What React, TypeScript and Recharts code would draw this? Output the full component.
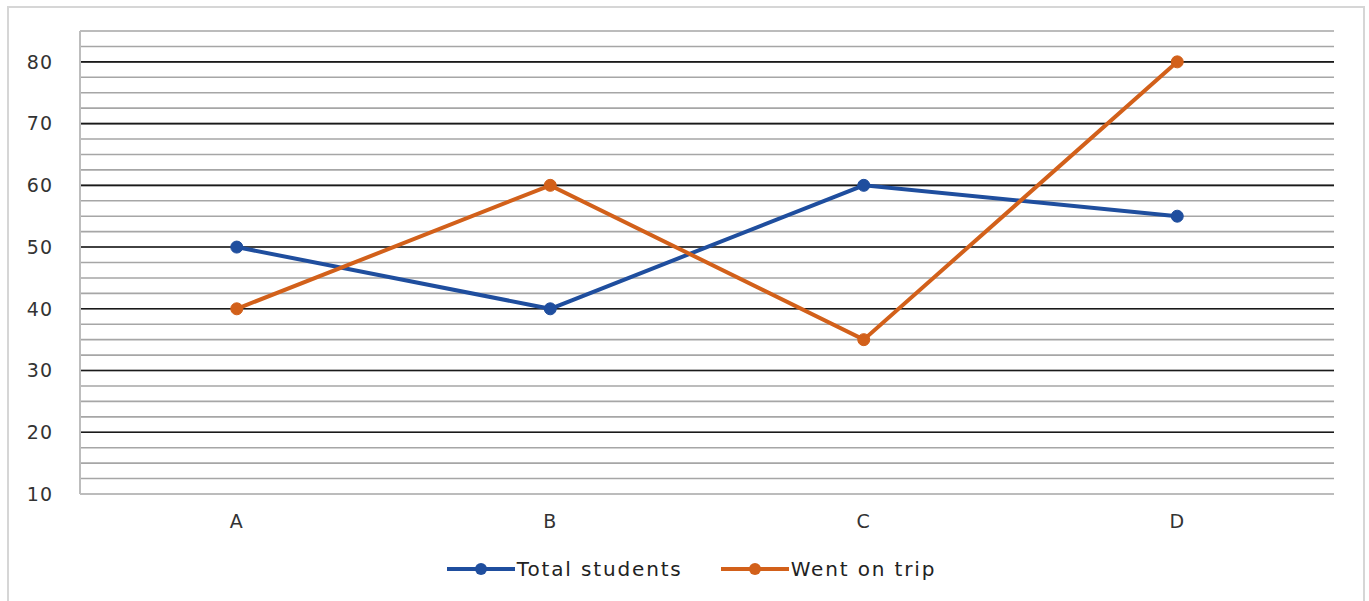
import React from 'react';
import { LineChart, Line, XAxis, YAxis, CartesianGrid, Legend } from 'recharts';

const categories = ['A', 'B', 'C', 'D'];
const totalStudents = [50, 40, 60, 55];
const wentOnTrip = [40, 60, 35, 80];
const majorTicks = [20, 30, 40, 50, 60, 70, 80];
const minorTicks = [10, 12.5, 15, 17.5, 20, 22.5, 25, 27.5, 30, 32.5, 35, 37.5, 40, 42.5, 45, 47.5, 50, 52.5, 55, 57.5, 60, 62.5, 65, 67.5, 70, 72.5, 75, 77.5, 80, 82.5, 85];
const labelTicks = [10, 20, 30, 40, 50, 60, 70, 80];

const data = categories.map((c, i) => ({ name: c, total: totalStudents[i], trip: wentOnTrip[i] }));

const BLUE = '#1F4E9E';
const ORANGE = '#D2601A';
const FONT = '"DejaVu Sans", sans-serif';

const renderLegend = (props: any) => {
  const { payload } = props;
  return (
    <div style={{ display: 'flex', justifyContent: 'center', alignItems: 'center', height: 30, paddingLeft: 49, fontFamily: FONT, fontSize: 20, letterSpacing: 1.85, color: '#222' }}>
      {(payload || []).map((entry: any, i: number) => (
        <div key={i} style={{ display: 'flex', alignItems: 'center', marginRight: i === 0 ? 38 : 0 }}>
          <svg width={68} height={14} style={{ display: 'block' }}>
            <line x1={0} y1={7} x2={68} y2={7} stroke={entry.color} strokeWidth={4} />
            <circle cx={34} cy={7} r={6} fill={entry.color} />
          </svg>
          <span style={{ marginLeft: 2, whiteSpace: 'nowrap' }}>{entry.value}</span>
        </div>
      ))}
    </div>
  );
};

export default function App() {
  return (
    <div style={{ position: 'absolute', left: 0, top: 0, width: 1369, height: 601, background: '#fff', overflow: 'hidden' }}>
      <div style={{ position: 'absolute', left: 7, top: 6, width: 1358, height: 610, border: '2px solid #D6D6D6', boxSizing: 'border-box' }} />
      <div style={{ position: 'absolute', left: 0, top: 0 }}>
        <LineChart width={1369} height={601} data={data} margin={{ top: 31, right: 35, bottom: 17, left: 0 }}>
          <XAxis dataKey="name" scale="band" tickLine={false} axisLine={false} tickSize={0} tickMargin={21} height={60}
            tick={{ fill: '#333', fontSize: 19, fontFamily: FONT, letterSpacing: 1 }} />
          <YAxis yAxisId="left" domain={[10, 85]} ticks={labelTicks} interval={0} width={80} tickLine={false} tickSize={0} tickMargin={27}
            axisLine={{ stroke: '#BDBDBD', strokeWidth: 2 }}
            tick={{ fill: '#333', fontSize: 19, fontFamily: FONT, letterSpacing: 1 }} />
          <YAxis yAxisId="right" orientation="right" domain={[10, 85]} width={0} tick={false} tickLine={false}
            axisLine={{ stroke: '#BDBDBD', strokeWidth: 2 }} />
          <CartesianGrid yAxisId="left" vertical={false} horizontalValues={minorTicks} stroke="#A6A6A6" strokeWidth={1.6} />
          <CartesianGrid yAxisId="left" vertical={false} horizontalValues={majorTicks} stroke="#1A1A1A" strokeWidth={1.6} />
          <Legend verticalAlign="bottom" content={renderLegend} />
          <Line yAxisId="left" type="linear" dataKey="total" name="Total students" stroke={BLUE} strokeWidth={4}
            dot={{ r: 6, fill: BLUE, stroke: BLUE, strokeWidth: 1 }} isAnimationActive={false} />
          <Line yAxisId="left" type="linear" dataKey="trip" name="Went on trip" stroke={ORANGE} strokeWidth={4}
            dot={{ r: 6, fill: ORANGE, stroke: ORANGE, strokeWidth: 1 }} isAnimationActive={false} />
        </LineChart>
      </div>
    </div>
  );
}
